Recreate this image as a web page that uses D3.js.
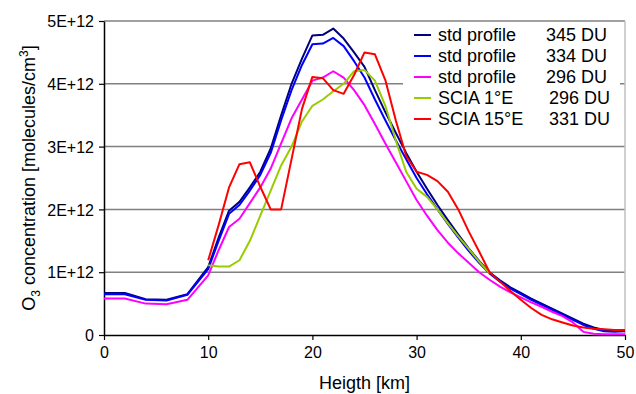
<!DOCTYPE html>
<html lang="en">
<head>
<meta charset="utf-8">
<title>O3 profiles</title>
<script src="https://d3js.org/d3.v7.min.js"></script>
<style>
  body { margin: 0; background: #fff; }
  text { font-family: "Liberation Sans", Arial, sans-serif; fill: #000; }
</style>
</head>
<body>
<script>
// heights [km] and O3 concentrations [1E12 molecules/cm3]
var hStd = [0, 2, 4, 6, 8, 10, 11, 12, 13, 14, 15, 16, 17, 18, 19, 20, 21, 22, 23, 24, 25,
            26, 27, 28, 29, 30, 31, 32, 33, 34, 35, 36, 37, 38, 39, 40, 41, 42, 43, 44, 45,
            46, 47, 48, 49, 50];
var std345 = [0.67, 0.67, 0.57, 0.56, 0.65, 1.08, 1.55, 1.98, 2.12, 2.35, 2.6, 2.97, 3.5, 4.0, 4.4, 4.77, 4.78, 4.88, 4.72, 4.5, 4.27,
              3.9, 3.55, 3.22, 2.9, 2.6, 2.33, 2.07, 1.83, 1.6, 1.38, 1.18, 1.0, 0.87, 0.76, 0.67, 0.58, 0.5, 0.42, 0.34, 0.26,
              0.18, 0.12, 0.08, 0.07, 0.08];
var std334 = [0.65, 0.65, 0.56, 0.55, 0.64, 1.05, 1.5, 1.93, 2.07, 2.3, 2.55, 2.9, 3.42, 3.9, 4.3, 4.63, 4.64, 4.73, 4.6, 4.36, 4.1,
              3.75, 3.42, 3.1, 2.8, 2.5, 2.24, 2.0, 1.77, 1.55, 1.34, 1.15, 0.98, 0.85, 0.74, 0.65, 0.56, 0.48, 0.4, 0.32, 0.24,
              0.16, 0.1, 0.06, 0.05, 0.06];
var std296 = [0.58, 0.58, 0.5, 0.49, 0.56, 0.95, 1.35, 1.72, 1.85, 2.1, 2.35, 2.65, 3.05, 3.45, 3.75, 4.05, 4.1, 4.2, 4.1, 3.9, 3.66,
              3.36, 3.05, 2.75, 2.45, 2.15, 1.9, 1.67, 1.47, 1.3, 1.15, 1.0, 0.88, 0.77, 0.68, 0.6, 0.52, 0.45, 0.37, 0.3, 0.2,
              0.05, 0.02, 0.01, 0.01, 0.01];

var hScia1 = [10, 11, 12, 13, 14, 15, 16, 17, 18, 19, 20, 21, 22, 23, 24, 25, 26, 27, 28, 29, 30, 31, 32, 33, 34, 35, 36, 37];
var scia1 = [1.11, 1.09, 1.09, 1.19, 1.5, 1.9, 2.3, 2.7, 3.0, 3.4, 3.65, 3.75, 3.88, 4.0, 4.2, 4.22, 4.05, 3.65, 3.1, 2.6, 2.33,
             2.2, 2.0, 1.78, 1.57, 1.37, 1.17, 0.98];

var hScia15 = [10, 11, 12, 13, 14, 15, 16, 17, 18, 19, 20, 21, 22, 23, 24, 25, 26, 27, 28, 29, 30, 31, 32, 33, 34, 35, 36, 37,
               38, 39, 40, 41, 42, 43, 44, 45, 46, 47, 48, 49, 50];
var scia15 = [1.19, 1.75, 2.35, 2.72, 2.75, 2.36, 2.0, 2.0, 2.8, 3.6, 4.11, 4.09, 3.9, 3.84, 4.14, 4.5, 4.47, 4.06, 3.42, 2.85, 2.6,
              2.55, 2.45, 2.28, 2.0, 1.65, 1.33, 1.0, 0.85, 0.7, 0.56, 0.43, 0.32, 0.25, 0.2, 0.15, 0.12, 0.1, 0.09, 0.08, 0.08];

var seriesNames = ["std profile", "std profile", "std profile", "SCIA 1\u00b0E", "SCIA 15\u00b0E"];
var seriesDU = ["345 DU", "334 DU", "296 DU", "296 DU", "331 DU"];
var seriesColors = ["#000080", "#0000ff", "#ff00ff", "#99cc00", "#ff0000"];
var seriesX = [hStd, hStd, hStd, hScia1, hScia15];
var seriesY = [std345, std334, std296, scia1, scia15];

var yTicks = [0, 1, 2, 3, 4, 5];
var yTickLabels = ["0", "1E+12", "2E+12", "3E+12", "4E+12", "5E+12"];
var xTicks = [0, 10, 20, 30, 40, 50];

var width = 636, height = 394;
var margin = {top: 21, right: 11, bottom: 59, left: 104};

var svg = d3.select("body").append("svg")
    .attr("width", width)
    .attr("height", height);

var x = d3.scaleLinear().domain([0, 50]).range([margin.left, width - margin.right]);
var y = d3.scaleLinear().domain([0, 5]).range([height - margin.bottom, margin.top]);

// gridlines
svg.append("g")
  .selectAll("line")
  .data(yTicks.slice(1))
  .join("line")
    .attr("x1", x(0)).attr("x2", x(50))
    .attr("y1", d => y(d)).attr("y2", d => y(d))
    .attr("stroke", "#808080")
    .attr("stroke-width", 1.5);

// right border of plot area
svg.append("line")
    .attr("x1", x(50)).attr("x2", x(50))
    .attr("y1", y(5)).attr("y2", y(0))
    .attr("stroke", "#c0c0c0")
    .attr("stroke-width", 1.5);

// axes
var yAxis = svg.append("g")
    .attr("transform", "translate(" + x(0) + ",0)")
    .call(d3.axisLeft(y).tickValues(yTicks).tickSize(5).tickSizeOuter(0)
      .tickFormat((d, i) => yTickLabels[i]));
var xAxis = svg.append("g")
    .attr("transform", "translate(0," + y(0) + ")")
    .call(d3.axisBottom(x).tickValues(xTicks).tickSize(5).tickSizeOuter(0));

[yAxis, xAxis].forEach(function(a) {
  a.select(".domain").attr("stroke", "#000").attr("stroke-width", 1.5);
  a.selectAll(".tick line").attr("stroke", "#000").attr("stroke-width", 1.2);
  a.selectAll(".tick text")
    .style("font-family", "'Liberation Sans', Arial, sans-serif")
    .style("font-size", "16px");
});
yAxis.selectAll(".tick text").attr("x", -10).attr("dy", "0.36em");
xAxis.selectAll(".tick text").attr("y", 12);

// series lines
var line = d3.line().x(d => x(d[0])).y(d => y(d[1]));
seriesY.forEach(function(vals, i) {
  var pts = vals.map((v, j) => [seriesX[i][j], v]);
  svg.append("path")
      .datum(pts)
      .attr("d", line)
      .attr("fill", "none")
      .attr("stroke", seriesColors[i])
      .attr("stroke-width", 2)
      .attr("stroke-linejoin", "round");
});

// legend
var lg = svg.append("g");
lg.append("rect")
    .attr("x", 403).attr("y", 22)
    .attr("width", 217).attr("height", 116)
    .attr("fill", "#fff");
var rows = lg.selectAll("g.row")
  .data(seriesNames)
  .join("g")
    .attr("class", "row")
    .attr("transform", (d, i) => "translate(0," + (35 + i * 21) + ")");
rows.append("line")
    .attr("x1", 414).attr("x2", 431)
    .attr("stroke", (d, i) => seriesColors[i])
    .attr("stroke-width", 2);
rows.append("text")
    .attr("x", 438).attr("dy", "0.36em")
    .style("font-size", "18px")
    .text(d => d);
rows.append("text")
    .attr("x", (d, i) => i < 3 ? 546 : 549).attr("dy", "0.36em")
    .style("font-size", "18px")
    .text((d, i) => seriesDU[i]);

// axis titles
svg.append("text")
    .attr("x", (x(0) + x(50)) / 2)
    .attr("y", 389)
    .attr("text-anchor", "middle")
    .style("font-size", "18px")
    .text("Heigth [km]");

var yt = svg.append("text")
    .attr("transform", "translate(35," + ((y(0) + y(5)) / 2) + ") rotate(-90)")
    .attr("text-anchor", "middle")
    .style("font-size", "18px");
yt.append("tspan").text("O");
yt.append("tspan").attr("dy", 5).style("font-size", "12px").text("3");
yt.append("tspan").attr("dy", -5).text(" concentration [molecules/cm");
yt.append("tspan").attr("dy", -7).style("font-size", "12px").text("3");
yt.append("tspan").attr("dy", 7).text("]");
</script>
</body>
</html>
